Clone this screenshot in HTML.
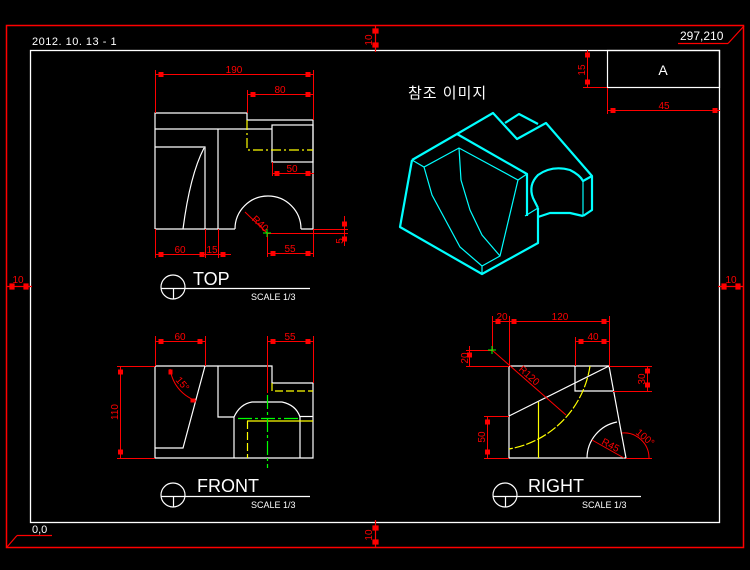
<!DOCTYPE html>
<html><head><meta charset="utf-8"><style>
html,body{margin:0;padding:0;background:#000;width:750px;height:570px;overflow:hidden}
svg{display:block}
text{font-family:"Liberation Sans","Noto Sans CJK KR",sans-serif}
</style></head><body>
<svg width="750" height="570" viewBox="0 0 750 570" xmlns="http://www.w3.org/2000/svg">
<rect width="750" height="570" fill="#000"/>
<rect x="6.5" y="25.5" width="737" height="522" fill="none" stroke="#f00" stroke-width="1.5"/>
<rect x="30.5" y="50.5" width="689" height="472" fill="none" stroke="#fff" stroke-width="1.3"/>
<g stroke="#f00" stroke-width="1.2" fill="#f00">
<line x1="375.5" y1="25" x2="375.5" y2="52"/><rect x="373" y="29" width="5" height="4"/><rect x="373" y="43" width="5" height="4"/>
<line x1="375.5" y1="520" x2="375.5" y2="548"/><rect x="373" y="526" width="5" height="4"/><rect x="373" y="540" width="5" height="4"/>
<line x1="6" y1="286.5" x2="32" y2="286.5"/><rect x="10" y="284" width="4" height="5"/><rect x="24" y="284" width="4" height="5"/>
<line x1="718" y1="286.5" x2="744" y2="286.5"/><rect x="722" y="284" width="4" height="5"/><rect x="736" y="284" width="4" height="5"/>
</g>
<g fill="#f00" font-size="10">
<text transform="translate(372,40) rotate(-90)" text-anchor="middle">10</text>
<text transform="translate(372,535) rotate(-90)" text-anchor="middle">10</text>
<text x="18" y="283" text-anchor="middle">10</text>
<text x="731" y="283" text-anchor="middle">10</text>
</g>
<text x="32" y="45" fill="#fff" font-size="11" letter-spacing="0.5">2012. 10. 13 - 1</text>
<text x="680" y="40" fill="#fff" font-size="12">297,210</text>
<g stroke="#f00" stroke-width="1.2" fill="none"><line x1="678" y1="43.5" x2="728" y2="43.5"/><line x1="728" y1="43.5" x2="744" y2="26"/>
<line x1="17" y1="535.5" x2="52" y2="535.5"/><line x1="17" y1="535.5" x2="7" y2="547"/></g>
<text x="32" y="533" fill="#fff" font-size="11">0,0</text>
<rect x="607.5" y="50.5" width="112" height="37" fill="none" stroke="#fff" stroke-width="1.2"/>
<text x="663" y="75" fill="#fff" font-size="14" text-anchor="middle">A</text>
<g stroke="#f00" stroke-width="1" fill="#f00">
<line x1="587.5" y1="50" x2="587.5" y2="87"/><line x1="583" y1="87.5" x2="607" y2="87.5"/>
<rect x="585.5" y="53" width="4" height="4"/><rect x="585.5" y="80" width="4" height="4"/>
<line x1="607.5" y1="88" x2="607.5" y2="114"/><line x1="607" y1="110.5" x2="720" y2="110.5"/>
<rect x="611" y="108.5" width="4" height="4"/><rect x="713" y="108.5" width="4" height="4"/>
</g>
<text transform="translate(585,70) rotate(-90)" fill="#f00" font-size="10" text-anchor="middle">15</text>
<text x="664" y="109" fill="#f00" font-size="10" text-anchor="middle">45</text>
<text x="408" y="98" fill="#fff" font-size="15" letter-spacing="1">참조 이미지</text>

<g stroke="#fff" stroke-width="1.2" fill="none">
<polyline points="155,229 155,113 247,113 247,120 313,120 313,229 301,229"/>
<line x1="155" y1="129" x2="272" y2="129"/>
<rect x="272" y="125" width="41" height="37"/>
<line x1="218" y1="129" x2="218" y2="229"/>
<polyline points="155,147 205,147 205,229"/>
<path d="M204,148 Q190,175 183,229"/>
<line x1="155" y1="229" x2="235" y2="229"/>
<path d="M235,229 A33,33 0 1 1 301,229"/>
</g>
<g stroke="#ff0" stroke-width="1.2" fill="none"><polyline points="247,120 247,150 313,150" stroke-dasharray="10,3,2,3"/></g>
<g stroke="#f00" stroke-width="1" fill="#f00">
<line x1="155.5" y1="70" x2="155.5" y2="113"/><line x1="313.5" y1="70" x2="313.5" y2="120"/><line x1="155" y1="74.5" x2="314" y2="74.5"/>
<rect x="159" y="72.5" width="4" height="4"/><rect x="306" y="72.5" width="4" height="4"/>
<line x1="247.5" y1="90" x2="247.5" y2="113"/><line x1="247" y1="94.5" x2="314" y2="94.5"/>
<rect x="251" y="92.5" width="4" height="4"/><rect x="306" y="92.5" width="4" height="4"/>
<line x1="272.5" y1="162" x2="272.5" y2="176"/><line x1="272" y1="173.5" x2="314" y2="173.5"/>
<rect x="275" y="171.5" width="4" height="4"/><rect x="306" y="171.5" width="4" height="4"/>
<line x1="155.5" y1="229" x2="155.5" y2="258"/><line x1="205.5" y1="229" x2="205.5" y2="258"/><line x1="218.5" y1="229" x2="218.5" y2="258"/>
<line x1="155" y1="254.5" x2="231" y2="254.5"/>
<rect x="159" y="252.5" width="4" height="4"/><rect x="200" y="252.5" width="4" height="4"/><rect x="221" y="252.5" width="4" height="4"/>
<line x1="267.5" y1="233" x2="267.5" y2="257"/><line x1="313.5" y1="229" x2="313.5" y2="257"/><line x1="267" y1="253.5" x2="314" y2="253.5"/>
<rect x="271" y="251.5" width="4" height="4"/><rect x="306" y="251.5" width="4" height="4"/>
<line x1="313" y1="229.5" x2="348" y2="229.5"/><line x1="267" y1="233.5" x2="348" y2="233.5"/>
<line x1="344.5" y1="216" x2="344.5" y2="246"/><rect x="342.5" y="222" width="4" height="4"/><rect x="342.5" y="237" width="4" height="4"/>
<line x1="267" y1="233" x2="245" y2="212"/>
</g>
<g stroke="#0f0" stroke-width="1"><line x1="263" y1="233" x2="271" y2="233"/><line x1="267" y1="229" x2="267" y2="237"/></g>
<g fill="#f00" font-size="10" text-anchor="middle">
<text x="234" y="73">190</text><text x="280" y="93">80</text><text x="292" y="172">50</text>
<text x="180" y="253">60</text><text x="212" y="253">15</text><text x="290" y="252">55</text>
<text transform="translate(343,241) rotate(-90)">5</text>
<text transform="translate(258,226) rotate(43)">R40</text>
</g>
<circle cx="173" cy="287" r="12" fill="none" stroke="#fff" stroke-width="1.2"/>
<g stroke="#fff" stroke-width="1.2"><line x1="161" y1="288.5" x2="310" y2="288.5"/><line x1="173.5" y1="288" x2="173.5" y2="299"/></g>
<text x="193" y="285" fill="#fff" font-size="18">TOP</text>
<text x="251" y="300" fill="#fff" font-size="9">SCALE 1/3</text>

<g stroke="#fff" stroke-width="1.2" fill="none">
<polyline points="155,366 272,366 272,383 313,383 313,458 155,458 155,366"/>
<polyline points="218,366 218,417 234,417 234,458"/>
<path d="M234,417 Q240,404 252,402 L282,402 Q296,405 300,417"/>
<line x1="300" y1="417" x2="300" y2="458"/><line x1="300" y1="416.5" x2="313" y2="416.5"/>
<polyline points="205,366 183,448 155,448"/>
</g>
<g stroke="#ff0" stroke-width="1.2" fill="none">
<polyline points="272,383 272,391 313,391" stroke-dasharray="8,3"/>
<line x1="247" y1="421" x2="313" y2="421"/>
<line x1="247.5" y1="421" x2="247.5" y2="458" stroke-dasharray="8,3"/>
</g>
<g stroke="#0f0" stroke-width="1.2" fill="none">
<line x1="238" y1="418.5" x2="298" y2="418.5" stroke-dasharray="14,3,3,3"/>
<line x1="267.5" y1="395" x2="267.5" y2="468" stroke-dasharray="14,3,3,3"/>
</g>
<g stroke="#f00" stroke-width="1" fill="#f00">
<line x1="155.5" y1="336" x2="155.5" y2="366"/><line x1="205.5" y1="336" x2="205.5" y2="366"/><line x1="155" y1="341.5" x2="206" y2="341.5"/>
<rect x="159" y="339.5" width="4" height="4"/><rect x="198" y="339.5" width="4" height="4"/>
<line x1="267.5" y1="336" x2="267.5" y2="393"/><line x1="313.5" y1="336" x2="313.5" y2="383"/><line x1="267" y1="341.5" x2="314" y2="341.5"/>
<rect x="271" y="339.5" width="4" height="4"/><rect x="306" y="339.5" width="4" height="4"/>
<line x1="117" y1="366.5" x2="155" y2="366.5"/><line x1="117" y1="458.5" x2="155" y2="458.5"/><line x1="120.5" y1="366" x2="120.5" y2="459"/>
<rect x="118.5" y="370" width="4" height="4"/><rect x="118.5" y="450" width="4" height="4"/>
<path d="M170,369 Q174,392 196,401" fill="none"/><rect x="169" y="370" width="3" height="4"/><rect x="191" y="399" width="4" height="3"/>
</g>
<g fill="#f00" font-size="10" text-anchor="middle">
<text x="180" y="340">60</text><text x="290" y="340">55</text>
<text transform="translate(118,412) rotate(-90)">110</text>
<text transform="translate(180,386) rotate(50)">15°</text>
</g>
<circle cx="173" cy="495" r="12" fill="none" stroke="#fff" stroke-width="1.2"/>
<g stroke="#fff" stroke-width="1.2"><line x1="161" y1="496.5" x2="310" y2="496.5"/><line x1="173.5" y1="496" x2="173.5" y2="507"/></g>
<text x="197" y="492" fill="#fff" font-size="18">FRONT</text>
<text x="251" y="508" fill="#fff" font-size="9">SCALE 1/3</text>

<g stroke="#fff" stroke-width="1.2" fill="none">
<polyline points="509,366 609,366 626,458 509,458 509,366"/>
<polyline points="575,366 575,391 613,391"/>
<line x1="509" y1="416" x2="609" y2="366"/>
<path d="M587,458 A37,37 0 0 1 617,422"/>
</g>
<g stroke="#ff0" stroke-width="1.2" fill="none">
<line x1="538.5" y1="402" x2="538.5" y2="458"/>
<path d="M590,366 A99,99 0 0 1 509,449" stroke-dasharray="10,2"/>
</g>
<g stroke="#f00" stroke-width="1" fill="#f00">
<line x1="492.5" y1="316" x2="492.5" y2="350"/><line x1="509.5" y1="316" x2="509.5" y2="366"/><line x1="609.5" y1="316" x2="609.5" y2="366"/>
<line x1="492" y1="321.5" x2="610" y2="321.5"/>
<rect x="496" y="319.5" width="4" height="4"/><rect x="512" y="319.5" width="4" height="4"/><rect x="602" y="319.5" width="4" height="4"/>
<line x1="575.5" y1="337" x2="575.5" y2="366"/><line x1="575" y1="341.5" x2="610" y2="341.5"/>
<rect x="579" y="339.5" width="4" height="4"/><rect x="602" y="339.5" width="4" height="4"/>
<line x1="466" y1="350.5" x2="492" y2="350.5"/><line x1="466" y1="366.5" x2="509" y2="366.5"/>
<line x1="469.5" y1="346" x2="469.5" y2="367"/><rect x="467.5" y="353" width="4" height="4"/>
<line x1="609" y1="366.5" x2="652" y2="366.5"/><line x1="613" y1="391.5" x2="652" y2="391.5"/>
<line x1="647.5" y1="366" x2="647.5" y2="392"/><rect x="645.5" y="369" width="4" height="4"/><rect x="645.5" y="383" width="4" height="4"/>
<line x1="484" y1="416.5" x2="509" y2="416.5"/><line x1="484" y1="458.5" x2="509" y2="458.5"/>
<line x1="487.5" y1="416" x2="487.5" y2="459"/><rect x="485.5" y="420" width="4" height="4"/><rect x="485.5" y="450" width="4" height="4"/>
<line x1="492" y1="350" x2="566" y2="415"/>
<line x1="592" y1="440" x2="624" y2="458"/>
<line x1="626" y1="458.5" x2="652" y2="458.5"/>
<path d="M622,433 A25,25 0 0 1 649,458" fill="none"/>
</g>
<g stroke="#0f0" stroke-width="1"><line x1="488" y1="350" x2="496" y2="350"/><line x1="492" y1="346" x2="492" y2="354"/></g>
<g fill="#f00" font-size="10" text-anchor="middle">
<text x="502" y="320">20</text><text x="560" y="320">120</text><text x="593" y="340">40</text>
<text transform="translate(468,358) rotate(-90)">20</text>
<text transform="translate(645,379) rotate(-90)">30</text>
<text transform="translate(485,437) rotate(-90)">50</text>
<text transform="translate(527,378) rotate(42)">R120</text>
<text transform="translate(609,448) rotate(28)">R45</text>
<text transform="translate(643,440) rotate(40)">100°</text>
</g>
<circle cx="505" cy="495" r="12" fill="none" stroke="#fff" stroke-width="1.2"/>
<g stroke="#fff" stroke-width="1.2"><line x1="493" y1="496.5" x2="641" y2="496.5"/><line x1="505.5" y1="496" x2="505.5" y2="507"/></g>
<text x="528" y="492" fill="#fff" font-size="18">RIGHT</text>
<text x="582" y="508" fill="#fff" font-size="9">SCALE 1/3</text>

<g stroke="#0ff" stroke-width="2.2" fill="none" stroke-linejoin="round">
<polyline points="412,160 457,134 493,113 517,139 546,123 592,176 592,210 583,216"/>
<polyline points="412,160 400,227 482,274 538,243 538,208"/>
<polyline points="457,134 527,174 527,216"/>
<polyline points="505,123 519,114 538,124"/>
<path d="M538,208 L533,198 Q528,185 538,175 Q552,165 570,170 Q580,175 583,181 L592,176"/>
<path d="M538,217 L550,213 L570,213 L583,216"/>
</g>
<g stroke="#0ff" stroke-width="1.2" fill="none">
<polyline points="412,160 424,167 459,148 518,180 527,174"/>
<polyline points="424,167 432,195 460,247 482,266 500,256 518,180"/>
<path d="M459,148 L461,180 L470,210 L482,235 L500,256"/>
<line x1="482" y1="266" x2="482" y2="274"/>
<line x1="525" y1="216" x2="538" y2="208"/>
<line x1="583" y1="181" x2="583" y2="216"/>
</g>
</svg>
</body></html>
